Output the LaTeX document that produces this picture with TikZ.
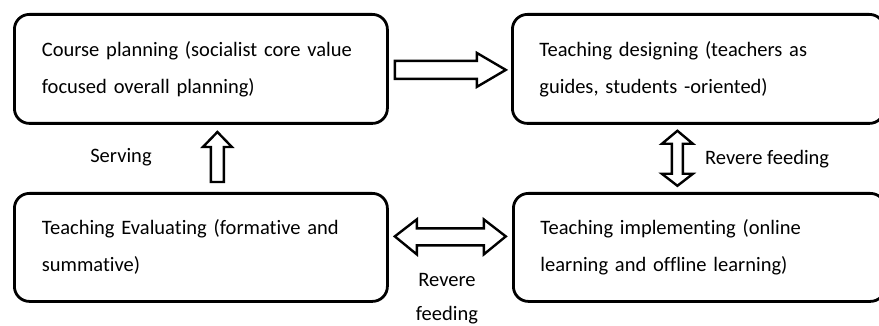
\documentclass[tikz,border=0pt]{standalone}
\usepackage{fontspec}
\setmainfont[Ligatures={NoCommon,NoContextual}]{Carlito}
\usetikzlibrary{calc}
\tikzset{
  box/.style={draw, line width=2.8pt, rounded corners=15pt, anchor=north west,
    text width=318pt, align=left, inner xsep=27pt, inner ysep=0pt,
    font=\fontsize{20.5}{37}\selectfont},
  fat/.style={draw, line width=2.4pt, fill=white, line join=miter},
  lbl/.style={font=\fontsize{20.5}{33}\selectfont, inner sep=0pt}
}
\begin{document}
\begin{tikzpicture}[x=1pt,y=-1pt]
\useasboundingbox (0,0) rectangle (879,326);
\node[box, minimum width=373pt, minimum height=109pt] (b1) at (13,13)
  {Course planning (socialist core value\\focused overall planning)};
\node[box, minimum width=365pt, minimum height=109pt] (b2) at (511,13)
  {Teaching designing (teachers as\\guides, students -oriented)};
\node[box, minimum width=373pt, minimum height=108pt] (b3) at (13,192)
  {Teaching Evaluating (formative and\\summative)};
\node[box, minimum width=364pt, minimum height=108pt] (b4) at (512,192)
  {Teaching implementing (online\\learning and offline learning)};
% right arrow b1 -> b2
\draw[fat] ($(b1.east)+(6,-8)$) coordinate (r0) -- ++(82,0) -- ++(0,-8) -- ++(29,17) -- ++(-29,17) -- ++(0,-8) -- ++(-82,0) -- cycle;
% up arrow b3 -> b1
\draw[fat] ($(b3.north)+(10,-10)$) -- ++(0,-35) -- ++(-8,0) -- ++(14.5,-15) -- ++(14.5,15) -- ++(-8,0) -- ++(0,35) -- cycle;
% vertical double arrow b2 <-> b4
\draw[fat] ($(b2.south)+(-21,6)$) -- ++(15.5,13) -- ++(-10,0) -- ++(0,30) -- ++(10,0) -- ++(-15.5,12) -- ++(-15.5,-12) -- ++(10,0) -- ++(0,-30) -- ++(-10,0) -- cycle;
% horizontal double arrow b3 <-> b4
\draw[fat] ($(b3.east)+(6,-11)$) -- ++(22,-17) -- ++(0,9) -- ++(67,0) -- ++(0,-9) -- ++(22,17) -- ++(-22,18) -- ++(0,-9) -- ++(-67,0) -- ++(0,9) -- cycle;
% labels
\node[lbl, anchor=base] (s) at (121,163) {Serving};
\node[lbl, anchor=base west] (rf1) at (705,165) {Revere feeding};
\node[lbl, anchor=base, align=center] (rf2) at (447,287) {Revere};
\node[lbl, anchor=base] (rf3) at (447,320) {feeding};
\end{tikzpicture}
\end{document}
